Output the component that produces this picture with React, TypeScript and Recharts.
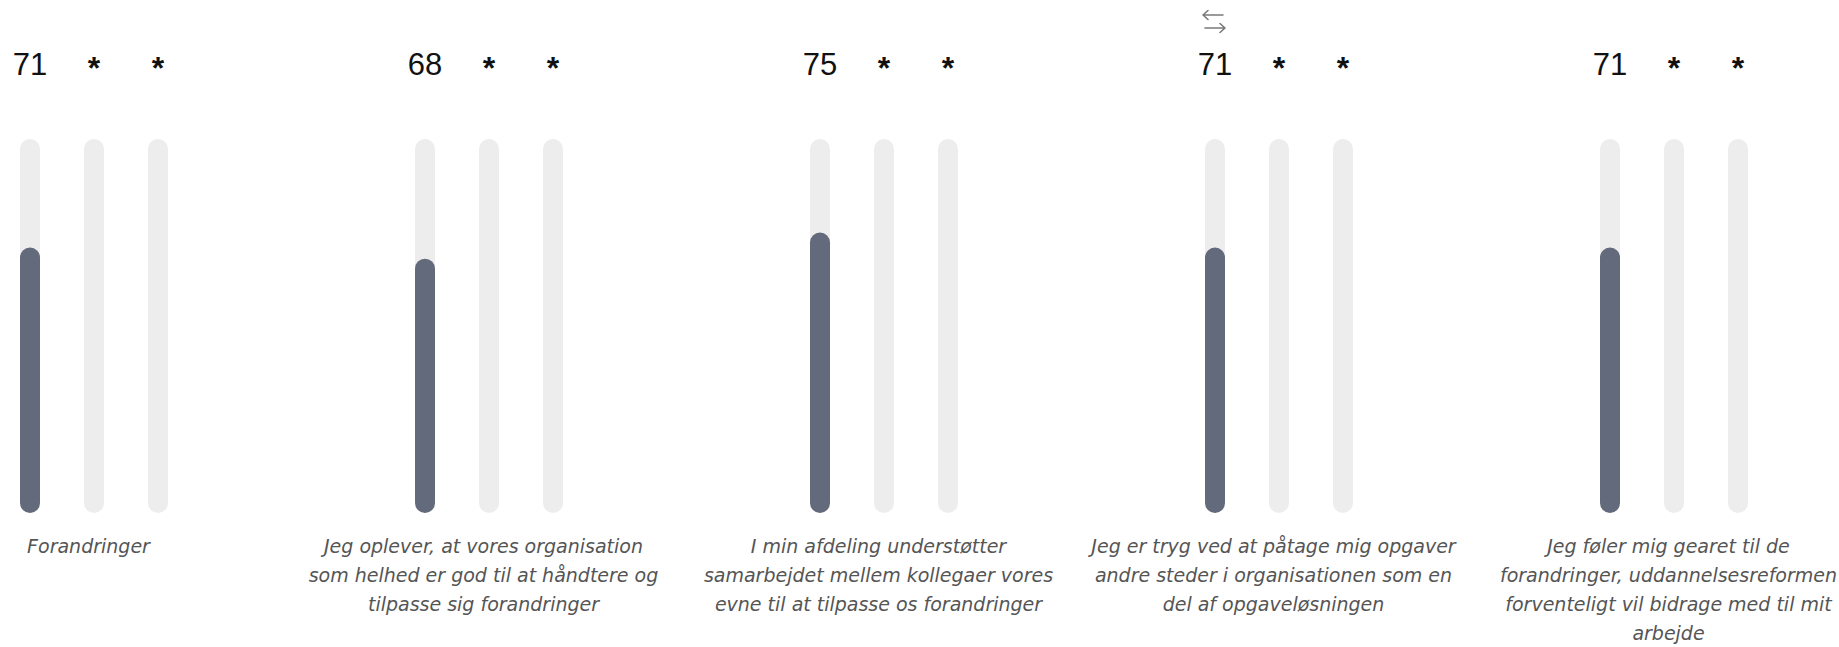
import React from "react";
import { BarChart, Bar, XAxis, YAxis, LabelList } from "recharts";

// survey questions (line breaks as wrapped in the original)
const categories = [
  "Forandringer",
  "Jeg oplever, at vores organisation\nsom helhed er god til at håndtere og\ntilpasse sig forandringer",
  "I min afdeling understøtter\nsamarbejdet mellem kollegaer vores\nevne til at tilpasse os forandringer",
  "Jeg er tryg ved at påtage mig opgaver\nandre steder i organisationen som en\ndel af opgaveløsningen",
  "Jeg føler mig gearet til de\nforandringer, uddannelsesreformen\nforventeligt vil bidrage med til mit\narbejde",
];
const scores = [71, 68, 75, 71, 71];
// comparison columns have no data (shown as *)
const previous: (number | null)[] = [null, null, null, null, null];
const benchmark: (number | null)[] = [null, null, null, null, null];
const domain = [0, 100];

// empty bars are drawn as 0 so their track stays; labels keep the raw value
const data = categories.map((name, i) => ({
  name,
  score: scores[i],
  previous: previous[i] ?? 0,
  benchmark: benchmark[i] ?? 0,
  scoreRaw: scores[i],
  previousRaw: previous[i],
  benchmarkRaw: benchmark[i],
}));

const TopLabel = (props: any) => {
  const vb = props.viewBox || {};
  const x = props.x ?? vb.x;
  const width = props.width ?? vb.width;
  const cx = Number(x) + Number(width) / 2;
  if (props.value == null || props.value === "") {
    return (
      <text x={cx} y={79} textAnchor="middle" fontFamily="'Liberation Sans', Arial, sans-serif"
        fontWeight="bold" fontSize={32} fill="#111">*</text>
    );
  }
  return (
    <text x={cx} y={75} textAnchor="middle" fontFamily="'Liberation Sans', Arial, sans-serif"
      fontSize={31} fill="#111">{props.value}</text>
  );
};

const GroupTick = (props: any) => {
  const { y, payload } = props;
  const x = props.x - 5;
  const lines = String(payload.value).split("\n");
  return (
    <text x={x} y={y} textAnchor="middle" fill="#555" fontStyle="italic"
      fontFamily="'DejaVu Sans', sans-serif" fontSize={19}>
      {lines.map((l, i) => (
        <tspan key={i} x={x} dy={i === 0 ? 32 : 29}>{l}</tspan>
      ))}
    </text>
  );
};

const barColor = "#636a7b";
const track = { fill: "#ededed", radius: 10 };
// keep zero bars in the layout so their background track is drawn
const keepZero = 0.001;

export default function App() {
  return (
    <div style={{ position: "absolute", left: 0, top: 0, width: 1839, height: 647, overflow: "hidden", background: "#fff" }}>
      <div style={{ position: "absolute", left: -104, top: 0 }}>
        <BarChart width={1975} height={647} data={data} barSize={20} barGap={44}
          margin={{ top: 139, right: 0, bottom: 0, left: 0 }}>
          <XAxis dataKey="name" height={134} axisLine={false} tickLine={false}
            interval={0} tick={<GroupTick />} />
          <YAxis hide domain={domain} />
          <Bar dataKey="score" fill={barColor} radius={10} background={track} isAnimationActive={false}>
            <LabelList dataKey="scoreRaw" content={<TopLabel />} />
          </Bar>
          <Bar dataKey="previous" fill="transparent" radius={10} background={track}
            minPointSize={keepZero} isAnimationActive={false}>
            <LabelList dataKey="previousRaw" content={<TopLabel />} />
          </Bar>
          <Bar dataKey="benchmark" fill="transparent" radius={10} background={track}
            minPointSize={keepZero} isAnimationActive={false}>
            <LabelList dataKey="benchmarkRaw" content={<TopLabel />} />
          </Bar>
        </BarChart>
      </div>
      <svg style={{ position: "absolute", left: 1200, top: 8 }} width={28} height={26}>
        <g stroke="#7a7a7a" strokeWidth={1.6} fill="none" strokeLinecap="round" strokeLinejoin="round">
          <path d="M3 7 H23 M3 7 L8 2.5 M3 7 L8 11.5" />
          <path d="M5 20 H25 M25 20 L20 15.5 M25 20 L20 24.5" />
        </g>
      </svg>
    </div>
  );
}
